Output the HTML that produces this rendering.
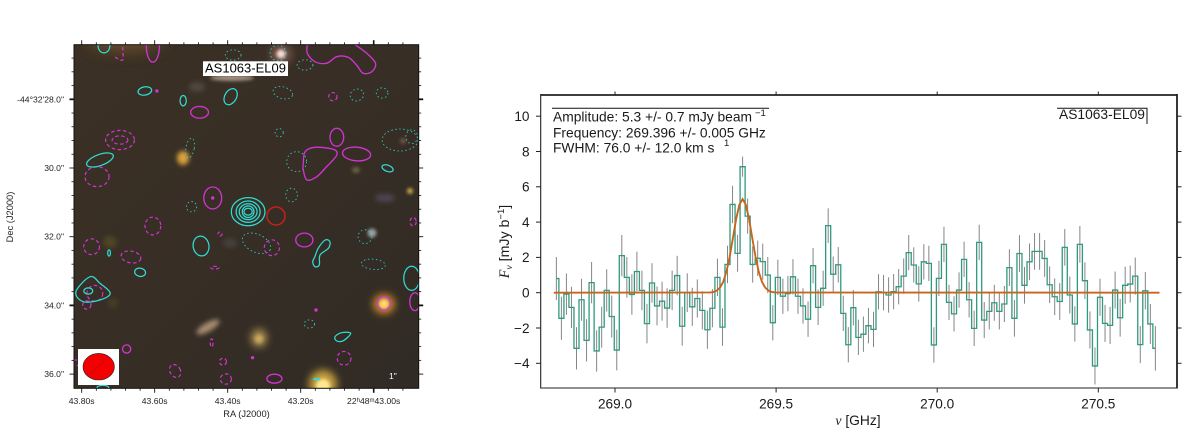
<!DOCTYPE html>
<html lang="en">
<head>
<meta charset="utf-8">
<title>AS1063-EL09 map and spectrum</title>
<style>
html,body{margin:0;padding:0;background:#fff;width:1200px;height:432px;overflow:hidden}
svg{display:block;font-family:"Liberation Sans",sans-serif}
</style>
</head>
<body>
<svg id="fig" xmlns="http://www.w3.org/2000/svg" width="1200" height="432" viewBox="0 0 1200 432">
<defs>
<clipPath id="mapClip"><rect x="74" y="44.7" width="344.7" height="343.6"/></clipPath>
<filter id="b1" x="-100%" y="-100%" width="300%" height="300%"><feGaussianBlur stdDeviation="1.5"/></filter>
<filter id="b2" x="-100%" y="-100%" width="300%" height="300%"><feGaussianBlur stdDeviation="2.5"/></filter>
<filter id="b4" x="-100%" y="-100%" width="300%" height="300%"><feGaussianBlur stdDeviation="4"/></filter>
<filter id="b8" x="-100%" y="-100%" width="300%" height="300%"><feGaussianBlur stdDeviation="8"/></filter>
<linearGradient id="skyGrad" x1="0" y1="0" x2="1" y2="1">
<stop offset="0" stop-color="#3b3025"/><stop offset="0.5" stop-color="#372e25"/><stop offset="1" stop-color="#302b25"/>
</linearGradient>
</defs>

<g id="mapPanel">
<g clip-path="url(#mapClip)">
<rect x="74" y="44.7" width="345" height="344" fill="url(#skyGrad)"/>
<ellipse cx="125" cy="38" rx="38" ry="12" fill="#8a6030" opacity=".7" filter="url(#b8)"/>
<ellipse cx="281" cy="54" rx="11" ry="11" fill="#a07060" opacity=".55" filter="url(#b4)"/>
<ellipse cx="281" cy="54" rx="4.5" ry="4.5" fill="#f4dcd4" filter="url(#b1)"/>
<ellipse cx="232" cy="78" rx="22" ry="3" fill="#a09080" filter="url(#b1)"/>
<ellipse cx="197" cy="87" rx="8" ry="5" fill="#4f4640" filter="url(#b2)"/>
<ellipse cx="183" cy="158" rx="6" ry="7" fill="#d8a23c" filter="url(#b2)"/>
<ellipse cx="356" cy="170" rx="4" ry="3" fill="#6d5f45" filter="url(#b1)"/>
<ellipse cx="410" cy="191" rx="3" ry="3" fill="#c8a848" filter="url(#b1)"/>
<ellipse cx="403" cy="141" rx="3" ry="3" fill="#705545" filter="url(#b1)"/>
<ellipse cx="385" cy="198" rx="10" ry="4" fill="#4d4450" filter="url(#b2)"/>
<ellipse cx="372" cy="233" rx="4.5" ry="4.5" fill="#98a0a0" filter="url(#b1)"/>
<ellipse cx="110" cy="242" rx="7" ry="6" fill="#504528" filter="url(#b2)"/>
<ellipse cx="230" cy="243" rx="7" ry="5" fill="#443f3a" filter="url(#b2)"/>
<ellipse cx="113" cy="303" rx="5" ry="5" fill="#453c28" filter="url(#b2)"/>
<ellipse cx="208" cy="327" rx="13" ry="4.5" transform="rotate(-30 208 327)" fill="#a68a70" filter="url(#b2)"/>
<ellipse cx="259" cy="338" rx="8" ry="9" fill="#a88c50" filter="url(#b4)"/>
<ellipse cx="259" cy="339" rx="4" ry="4" fill="#c8a860" filter="url(#b1)"/>
<ellipse cx="323" cy="384" rx="14" ry="14" fill="#c8a040" filter="url(#b4)"/>
<ellipse cx="323" cy="386" rx="7" ry="7" fill="#ffe890" filter="url(#b1)"/>
<ellipse cx="384" cy="304" rx="11" ry="10" fill="#c88828" filter="url(#b4)"/>
<ellipse cx="384" cy="304" rx="5" ry="5" fill="#ffd870" filter="url(#b1)"/>
<g id="contours"></g>
<circle cx="276" cy="216" r="9" fill="none" stroke="#c8201c" stroke-width="1.5"/>
</g>
<g id="mapTicks"></g>
<rect x="74" y="44.7" width="344.7" height="343.6" fill="none" stroke="#111" stroke-width="1"/>
<rect x="203" y="61.3" width="85" height="14.7" fill="#fff"/>
<text x="205" y="72.5" font-size="13" fill="#000">AS1063-EL09</text>
<rect x="78" y="349" width="41" height="36" fill="#fff"/>
<ellipse cx="98.7" cy="366.7" rx="15.7" ry="13.3" fill="#f40000" stroke="#222" stroke-width=".6"/>
<line x1="90" y1="375" x2="107" y2="358" stroke="#702020" stroke-width=".5"/>
<text x="389" y="379" font-size="8.5" fill="#fff">1"</text>
<text x="246.5" y="417" font-size="9.3" fill="#222" text-anchor="middle">RA (J2000)</text>
<text transform="translate(13 217) rotate(-90)" font-size="9.3" fill="#222" text-anchor="middle">Dec (J2000)</text>
</g>

<g id="specPanel">
<g id="specErrors"></g>
<path id="specStep" fill="none" stroke="#2f9a7e" stroke-width="1.3"/>
<path id="specModel" fill="none" stroke="#c8651c" stroke-width="1.9"/>
<g id="specTicks"></g>
<line x1="540.7" y1="388" x2="1177" y2="388" stroke="#222" stroke-width="1.1"/>
<line x1="540.7" y1="95" x2="1177" y2="95" stroke="#222" stroke-width="1.8"/>
<line x1="540.7" y1="94" x2="540.7" y2="388.5" stroke="#222" stroke-width="1.1"/>
<line x1="1177" y1="94" x2="1177" y2="388.5" stroke="#222" stroke-width="1.8"/>
<line x1="552" y1="108.3" x2="769" y2="108.3" stroke="#111" stroke-width="1"/>
<g font-size="13.8" fill="#1a1a1a">
<text x="553" y="121.7">Amplitude: 5.3 +/- 0.7 mJy beam</text>
<text x="755" y="116" font-size="9.5">−1</text>
<text x="553" y="137.7">Frequency: 269.396 +/- 0.005 GHz</text>
<text x="553" y="152.3">FWHM: 76.0 +/- 12.0 km s</text>
<text x="724" y="146" font-size="9.5">1</text>
</g>
<polyline points="1057,108.3 1147,108.3 1147,124" fill="none" stroke="#111" stroke-width="1"/>
<text x="1059" y="119" font-size="13.8" fill="#1a1a1a">AS1063-EL09</text>
<text x="858" y="425" font-size="13.8" fill="#1a1a1a" text-anchor="middle"><tspan font-family="Liberation Serif" font-style="italic">ν</tspan> [GHz]</text>
<text transform="translate(509 241.5) rotate(-90)" font-size="14.2" fill="#1a1a1a" text-anchor="middle"><tspan font-family="Liberation Serif" font-style="italic">F</tspan><tspan font-family="Liberation Serif" font-style="italic" font-size="9.5" dy="3">ν</tspan><tspan dy="-3"> [mJy b</tspan><tspan font-size="9.5" dy="-5">−1</tspan><tspan dy="5">]</tspan></text>
</g>
</svg>
<script>
// Spectrum data
const freqStart = 268.818;
const freqStep = 0.015623;
const channelFlux = [
 0.80,-1.45,-0.08,-0.83,-3.15,-0.40,-2.70,0.57,-3.30,-1.95,
 0.13,-1.35,-3.25,2.10,0.87,-0.10,1.20,0.13,-1.75,0.55,
 -0.75,-0.48,-0.87,0.13,0.97,-1.90,0.00,-0.80,-0.33,-1.00,
 -2.10,-0.88,0.87,-1.95,1.60,5.00,2.23,7.14,4.34,1.60,
 1.95,1.76,1.00,-1.70,0.87,-0.20,-0.05,0.90,-0.20,-0.75,
 -1.50,1.53,-0.83,0.25,3.80,1.05,1.58,-1.17,-2.95,-0.85,
 -2.53,-2.35,-1.87,-2.08,0.05,0.00,-0.13,0.06,0.34,0.94,
 2.27,1.57,0.50,1.75,1.66,-2.96,0.81,2.74,-0.55,-1.20,
 0.15,1.89,-0.40,-2.02,2.85,-1.55,-1.06,-0.57,-1.06,-0.64,
 1.42,-1.45,2.22,0.42,1.75,2.34,2.34,1.94,0.45,-0.23,
 -0.50,2.57,-0.13,-1.77,2.74,0.68,-2.11,-4.15,-0.26,-1.74,
 -1.85,0.15,-1.42,0.42,0.49,0.94,-2.94,0.11,-1.77,-3.15
];
const channelError = [
 1.22,1.22,1.17,1.17,1.20,1.19,1.20,1.17,1.17,1.16,
 1.20,1.19,1.15,1.17,1.15,1.15,1.12,1.12,1.12,1.12,
 1.10,1.10,1.12,1.12,1.12,1.10,1.10,1.08,1.08,1.08,
 1.08,1.08,1.06,1.06,1.06,1.06,1.04,0.57,1.00,1.03,
 1.00,1.02,1.02,1.00,1.00,1.00,1.00,1.00,1.00,1.00,
 1.00,1.00,1.00,1.00,0.98,1.00,1.00,1.00,1.00,1.00,
 1.00,1.00,1.00,1.00,1.00,1.00,1.00,1.00,1.00,1.00,
 1.00,1.00,1.00,1.00,1.00,1.00,1.00,1.00,1.00,1.00,
 1.00,1.00,1.00,1.00,1.00,1.02,1.02,1.02,1.02,1.02,
 1.04,1.04,1.04,1.04,1.04,1.04,1.04,1.04,1.04,1.04,
 1.04,1.04,1.04,1.00,1.04,1.04,1.05,1.05,1.05,1.05,
 1.05,1.05,1.07,1.05,1.05,1.05,1.05,1.06,1.13,1.26
];
const modelNu = [268.81,269.296,269.306,269.316,269.326,269.336,269.346,269.356,269.366,269.376,269.386,269.396,269.406,269.416,269.426,269.436,269.446,269.456,269.466,269.476,269.486,269.496,270.69];
const modelFlux = [0,0.014,0.043,0.12,0.29,0.62,1.20,2.05,3.10,4.18,4.99,5.30,4.99,4.18,3.10,2.05,1.20,0.62,0.29,0.12,0.043,0.014,0];
const specXTicks = [269.0,269.5,270.0,270.5];
const specYTicks = [-4,-2,0,2,4,6,8,10];

// Map axis data
const raMajorTicks = [43.80,43.60,43.40,43.20,43.00];
const raMajorLabels = ["43.80s","43.60s","43.40s","43.20s",""];
const raMinorTicks = [43.76,43.72,43.68,43.64,43.56,43.52,43.48,43.44,43.36,43.32,43.28,43.24,43.16,43.12,43.08,43.04,42.96,42.92];
const decMajorTicks = [28,30,32,34,36];
const decMajorLabels = ["-44°32'28.0\"","30.0\"","32.0\"","34.0\"","36.0\""];
const decMinorTicks = [26.8,27.2,27.6,28.4,28.8,29.2,29.6,30.4,30.8,31.2,31.6,32.4,32.8,33.2,33.6,34.4,34.8,35.2,35.6];

// Contours on the sky: [RA seconds, Dec arcsec, x radius ", y radius ", rotation]
const cyanSolid = [
 [43.739,26.448,.17,.20,0],[43.627,27.758,.20,.12,-10],[43.522,28.041,.09,.15,0],[43.392,27.924,.17,.25,30],
 [43.750,29.767,.41,.16,-20],[43.473,32.271,.23,.29,-10],[43.640,33.036,.16,.12,10],[43.782,33.581,.13,.09,0],
 [42.896,33.211,.23,.35,0],[43.742,36.390,.17,.06,0],[42.962,30.009,.17,.09,20],[43.156,36.143,.09,.02,0],
 [43.725,32.474,.04,.09,0],
 [43.344,31.272,.49,.41,0],[43.344,31.272,.35,.31,0],[43.344,31.272,.26,.23,0],[43.344,31.272,.17,.17,0],[43.344,31.272,.12,.10,0]
];
const cyanDotted = [
 [43.503,29.418,.12,.29,10],[43.499,31.127,.15,.15,0],[43.385,26.710,.23,.15,0],[43.262,26.652,.23,.23,0],
 [43.188,27.001,.23,.15,0],[43.249,27.808,.29,.17,15],[43.046,27.875,.20,.17,-20],[42.977,27.816,.17,.15,0],
 [43.259,28.972,.12,.12,0],[43.211,29.816,.29,.29,0],[42.928,29.185,.52,.32,0],[42.896,29.089,.17,.20,0],
 [43.225,30.786,.17,.20,0],[43.321,32.192,.44,.26,25],[43.024,32.000,.20,.20,0],[43.001,32.803,.35,.15,5],
 [43.176,34.541,.15,.12,0]
];
const magentaSolid = [
 [43.605,26.448,.19,.47,0],[43.477,28.378,.26,.17,0],[43.441,30.873,.26,.32,0],[43.101,29.106,.20,.26,0],
 [43.047,29.592,.41,.20,5],[43.190,32.096,.25,.20,0],[42.887,33.892,.15,.26,0],[42.972,33.939,.19,.20,0],
 [43.272,36.134,.22,.13,0],[43.677,35.269,.12,.12,0]
];
const magentaDots = [[43.158,34.134],[43.332,35.522],[43.441,30.873],[43.594,27.758]];
const magentaDashed = [
 [43.695,29.185,.42,.28,0],[43.695,29.185,.23,.12,0],[43.758,30.253,.35,.29,0],[43.605,31.688,.23,.26,0],
 [43.112,27.924,.12,.12,0],[42.892,31.563,.09,.12,0],[43.773,32.291,.23,.23,0],[43.665,32.591,.29,.17,10],
 [43.435,32.902,.12,.04,0],[43.421,31.921,.06,.06,0],[43.764,33.648,.23,.23,0],[43.786,33.988,.12,.12,0],
 [43.544,35.909,.15,.20,-30],[43.444,35.094,.04,.12,0],[43.413,35.639,.10,.10,0],[43.405,36.143,.16,.15,0],
 [43.816,35.677,.09,.09,0],[43.279,32.320,.22,.23,0],[43.081,35.540,.20,.20,0]
];
const magentaTopLobe = [[43.182,26.410],[43.182,26.661],[43.161,26.905],[43.129,26.952],[43.101,26.760],[43.070,26.777],[43.047,27.001],[43.029,27.243],[43.005,27.196],[42.995,26.952],[43.019,26.661],[43.051,26.410]];
const magentaBlob = [[43.193,29.863],[43.188,29.525],[43.161,29.397],[43.111,29.455],[43.101,29.621],[43.129,29.962],[43.156,30.253],[43.183,30.349],[43.193,30.058],[43.193,29.863]];
const magentaCorner = [[43.688,26.477],[43.688,26.856],[43.709,26.768]];
const cyanFigureEight = [[43.161,32.582],[43.152,32.338],[43.133,32.096],[43.120,32.145],[43.124,32.338],[43.147,32.533],[43.149,32.824],[43.161,32.873],[43.167,32.727],[43.161,32.582]];
const cyanLowerLeft = [[43.816,33.601],[43.777,33.164],[43.750,33.356],[43.722,33.647],[43.750,33.843],[43.796,33.892],[43.816,33.601]];
const cyanTeardrop = [[43.106,34.911],[43.088,34.795],[43.063,34.812],[43.083,35.027],[43.101,35.036],[43.106,34.911]];

const NS = "http://www.w3.org/2000/svg";
const CYAN = "#2fdcd4", MAGENTA = "#d034d0";

// Axis functions
function specX(nu){ return 615 + (nu - 269.0) * 322.2; }
function specY(v){ return 292.7 - v * 17.65; }
function mapX(ra){ return 81.7 + (43.80 - ra) * 365; }
function mapY(dec){ return 99.3 + (dec - 28) * 34.35; }
function arcsecToPx(a){ return a * 34.35; }

function make(tag, parent){
  const el = document.createElementNS(NS, tag);
  parent.appendChild(el);
  return el;
}
function setAll(el, pairs){
  for (const k in pairs) el.setAttribute(k, pairs[k]);
}
function smoothClosed(pts){
  let d = "M" + pts[0][0].toFixed(1) + " " + pts[0][1].toFixed(1);
  const n = pts.length;
  const closed = n > 3 && pts[0][0] === pts[n - 1][0] && pts[0][1] === pts[n - 1][1];
  function at(i){
    if (closed) return pts[((i % (n - 1)) + (n - 1)) % (n - 1)];
    return pts[Math.min(Math.max(i, 0), n - 1)];
  }
  for (let i = 0; i < n - 1; i++){
    const p0 = at(i - 1), p1 = at(i), p2 = at(i + 1), p3 = at(i + 2);
    const c1x = p1[0] + (p2[0] - p0[0]) / 6, c1y = p1[1] + (p2[1] - p0[1]) / 6;
    const c2x = p2[0] - (p3[0] - p1[0]) / 6, c2y = p2[1] - (p3[1] - p1[1]) / 6;
    d += "C" + c1x.toFixed(1) + " " + c1y.toFixed(1) + " " + c2x.toFixed(1) + " " + c2y.toFixed(1) + " " + p2[0].toFixed(1) + " " + p2[1].toFixed(1);
  }
  return d;
}

// Spectrum marks
const channelNu = channelFlux.map(function(_, i){ return freqStart + freqStep * i; });
const errorGroup = document.getElementById("specErrors");
channelFlux.forEach(function(v, i){
  const line = make("line", errorGroup);
  setAll(line, {x1: specX(channelNu[i]), x2: specX(channelNu[i]), y1: specY(v - channelError[i]), y2: specY(v + channelError[i]), stroke: "#858585", "stroke-width": 1});
  
  
});
let stepD = "M" + specX(channelNu[0]).toFixed(2) + " " + specY(channelFlux[0]).toFixed(2);
for (let i = 1; i < channelFlux.length; i++){
  const mid = specX((channelNu[i - 1] + channelNu[i]) / 2).toFixed(2);
  stepD += "H" + mid + "V" + specY(channelFlux[i]).toFixed(2);
}
stepD += "H" + specX(channelNu[channelNu.length - 1]).toFixed(2);
document.getElementById("specStep").setAttribute("d", stepD);

const modelPts = modelNu.map(function(n, i){ return [specX(n), specY(modelFlux[i])]; });
document.getElementById("specModel").setAttribute("d", modelPts.map(function(p, i){ return (i ? "L" : "M") + p[0].toFixed(2) + " " + p[1].toFixed(2); }).join(""));

// Spectrum ticks
const specTickGroup = document.getElementById("specTicks");
specXTicks.forEach(function(t){
  const x = specX(t);
  const bottom = make("line", specTickGroup);
  setAll(bottom, {x1: x, x2: x, y1: 388, y2: 392.5, stroke: "#222", "stroke-width": 1});
  
  
  const top = make("line", specTickGroup);
  setAll(top, {x1: x, x2: x, y1: 95, y2: 91.5, stroke: "#222", "stroke-width": 1});
  
  
  const label = make("text", specTickGroup);
  setAll(label, {x: x, y: 408.3, "font-size": 13.6, fill: "#1a1a1a", "text-anchor": "middle"});
  label.textContent = t.toFixed(1);
  
  
});
specYTicks.forEach(function(t){
  const y = specY(t);
  const left = make("line", specTickGroup);
  setAll(left, {x1: 536, x2: 540.7, y1: y, y2: y, stroke: "#222", "stroke-width": 1});
  
  
  const right = make("line", specTickGroup);
  setAll(right, {x1: 1177, x2: 1181.5, y1: y, y2: y, stroke: "#222", "stroke-width": 1});
  
  
  const label = make("text", specTickGroup);
  setAll(label, {x: 529.5, y: y + 4.8, "font-size": 13.6, fill: "#1a1a1a", "text-anchor": "end"});
  label.textContent = (t < 0 ? "−" : "") + Math.abs(t);
  
  
});

// Map ticks
const mapTickGroup = document.getElementById("mapTicks");
function raTick(ra, len, w){
  const x = mapX(ra);
  [[388.3, 388.3 + len], [44.7, 44.7 - len]].forEach(function(ys){
    const t = make("line", mapTickGroup);
    setAll(t, {x1: x, x2: x, y1: ys[0], y2: ys[1], stroke: "#111", "stroke-width": w});
    
    
  });
}
function decTick(dec, len, w){
  const y = mapY(dec);
  [[74, 74 - len], [418.7, 418.7 + len]].forEach(function(xs){
    const t = make("line", mapTickGroup);
    setAll(t, {x1: xs[0], x2: xs[1], y1: y, y2: y, stroke: "#111", "stroke-width": w});
    
    
  });
}
raMajorTicks.forEach(function(ra, i){
  raTick(ra, 4.5, ra === 43.00 ? 1.6 : 0.9);
  const label = make("text", mapTickGroup);
  setAll(label, {x: mapX(ra), y: 404, "font-size": 8.6, fill: "#222", "text-anchor": "middle"});
  if (raMajorLabels[i]) {
    label.textContent = raMajorLabels[i];
  } else {
    label.innerHTML = '22<tspan font-size="6" dy="-2">h</tspan><tspan dy="2">48</tspan><tspan font-size="6" dy="-2">m</tspan><tspan dy="2">43.00s</tspan>';
  }
  
  
});
raMinorTicks.forEach(function(ra){ raTick(ra, 2.5, 0.8); });
decMajorTicks.forEach(function(dec, i){
  decTick(dec, 4.5, (dec === 28 || dec === 34) ? 1.8 : 0.9);
  const label = make("text", mapTickGroup);
  setAll(label, {x: 64, y: mapY(dec) + 3, "font-size": 8.6, fill: "#222", "text-anchor": "end"});
  label.textContent = decMajorLabels[i];
  
  
});
decMinorTicks.forEach(function(dec){ decTick(dec, 2.5, 0.8); });

// Contours
const contourGroup = document.getElementById("contours");
function drawEllipses(list, color, width, dash){
  list.forEach(function(c){
    const e = make("ellipse", contourGroup);
    const cx = mapX(c[0]), cy = mapY(c[1]);
    setAll(e, {cx: cx, cy: cy, rx: arcsecToPx(c[2]), ry: arcsecToPx(c[3]), fill: "none", stroke: color, "stroke-width": width, transform: "rotate(" + c[4] + " " + cx + " " + cy + ")"});
    if (dash) e.setAttribute("stroke-dasharray", dash);
    
    
  });
}
function drawPath(list, color, width, dash){
  const p = make("path", contourGroup);
  setAll(p, {d: smoothClosed(list.map(function(v){ return [mapX(v[0]), mapY(v[1])]; })), fill: "none", stroke: color, "stroke-width": width});
  if (dash) p.setAttribute("stroke-dasharray", dash);
  
  
}
drawEllipses(cyanDotted, CYAN, 0.8, "1.5 2.5");
drawEllipses(magentaDashed, MAGENTA, 1.2, "3.5 2.5");
drawEllipses(cyanSolid, CYAN, 1.25, null);
drawEllipses(magentaSolid, MAGENTA, 1.35, null);
drawPath(magentaTopLobe, MAGENTA, 1.35, null);
drawPath(magentaBlob, MAGENTA, 1.35, null);
drawPath(magentaCorner, MAGENTA, 1.2, "3.5 2.5");
drawPath(cyanFigureEight, CYAN, 1.25, null);
drawPath(cyanLowerLeft, CYAN, 1.25, null);
drawPath(cyanTeardrop, CYAN, 1.25, null);
magentaDots.forEach(function(d){
  const dot = make("circle", contourGroup);
  setAll(dot, {cx: mapX(d[0]), cy: mapY(d[1]), r: 1.7, fill: MAGENTA});
  
  
});
</script>
</body>
</html>
